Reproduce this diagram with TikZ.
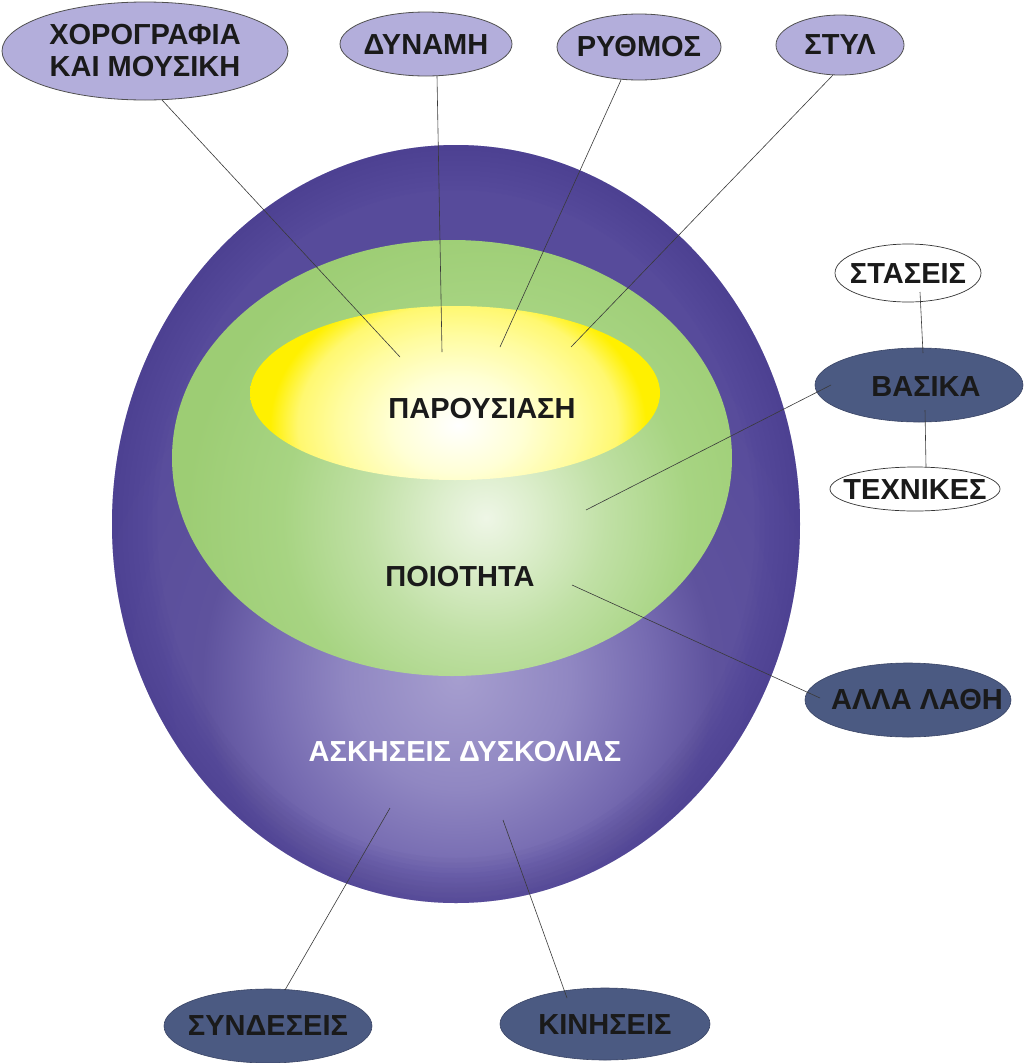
\documentclass[tikz,border=0pt]{standalone}
\usepackage{fontspec}
\setmainfont{Liberation Sans}
\newfontfamily\lblfont{Liberation Sans Bold}
\definecolor{pL}{HTML}{A69ECF}
\definecolor{pM}{HTML}{9087C2}
\definecolor{pMD}{HTML}{766BB1}
\definecolor{pD}{HTML}{5E529D}
\definecolor{pE}{HTML}{574B9B}
\definecolor{pR}{HTML}{42368A}
\definecolor{gW}{HTML}{EEF6E6}
\definecolor{gL}{HTML}{DDEECD}
\definecolor{gM}{HTML}{C0E0A5}
\definecolor{gD}{HTML}{A7D482}
\definecolor{gE}{HTML}{9DCD74}
\definecolor{yW}{HTML}{FFFFFF}
\definecolor{yL}{HTML}{FFFFD6}
\definecolor{yM}{HTML}{FFFCA0}
\definecolor{yD}{HTML}{FFF870}
\definecolor{yE}{HTML}{FFF000}
\definecolor{lavender}{HTML}{B3AEDB}
\definecolor{slate}{HTML}{4B5A82}
\definecolor{slateborder}{HTML}{3A4566}
\definecolor{bordergray}{HTML}{505050}
\definecolor{linegray}{HTML}{3A3A3A}
\definecolor{txtblack}{HTML}{1A1A1A}
\pgfdeclareradialshading{purpleshade}{\pgfpoint{0bp}{0bp}}{color(0bp)=(pL); color(4.67bp)=(pM); color(8bp)=(pMD); color(10.67bp)=(pD); color(16.67bp)=(pE); color(60bp)=(pE)}
\pgfdeclareradialshading{greenshade}{\pgfpoint{0bp}{0bp}}{color(0bp)=(gW); color(2.67bp)=(gL); color(6.67bp)=(gM); color(11.33bp)=(gD); color(16.67bp)=(gE); color(60bp)=(gE)}
\pgfdeclareradialshading{yellowshade}{\pgfpoint{0bp}{0bp}}{color(0bp)=(yW); color(5.33bp)=(yL); color(10bp)=(yM); color(13.33bp)=(yD); color(15.67bp)=(yE); color(60bp)=(yE)}
\begin{document}
\begin{tikzpicture}[x=1pt,y=-1pt,
  conn/.style={draw=linegray, line width=0.6pt},
  lav/.style={fill=lavender, draw=bordergray, line width=0.8pt},
  darkell/.style={fill=slate, draw=slateborder, line width=0.6pt},
  whiteell/.style={fill=white, draw=black!80, line width=0.7pt},
  lbl/.style={font=\lblfont\fontsize{29}{32}\selectfont, text=txtblack, inner sep=0pt, align=center},
]
\fill[white] (0,0) rectangle (1024,1063);
\useasboundingbox (0,0) rectangle (1024,1063);

% purple ellipse
\begin{scope}
  \clip (456,524) ellipse [x radius=344pt, y radius=379pt];
  \shade[shading=purpleshade] (458,677) circle [radius=600pt];
  \foreach \w in {90,80,70,60,50,40,30,20,10}
    \draw[pR, line width=\w pt, opacity=0.05] (456,524) ellipse [x radius=344pt, y radius=379pt];
\end{scope}
% green ellipse
\begin{scope}
  \clip (452,458) ellipse [x radius=280pt, y radius=218pt];
  \shade[shading=greenshade] (486,518) circle [radius=450pt];
\end{scope}
% yellow ellipse
\begin{scope}
  \clip (455,393) ellipse [x radius=205pt, y radius=87pt];
  \shade[shading=yellowshade] (458,425) ellipse [x radius=300pt, y radius=225pt];
\end{scope}

\node[lbl] (par) at (482,409) {ΠΑΡΟΥΣΙΑΣΗ};
\node[lbl] (poi) at (460,577) {ΠΟΙΟΤΗΤΑ};
\node[lbl, text=white] (ask) at (465,752) {ΑΣΚΗΣΕΙΣ ΔΥΣΚΟΛΙΑΣ};

% top ellipses
\path[lav] (145,51) ellipse [x radius=143pt, y radius=49pt];
\node[lbl] (xor) at (145,51) {ΧΟΡΟΓΡΑΦΙΑ\\ΚΑΙ ΜΟΥΣΙΚΗ};
\path[lav] (426,44) ellipse [x radius=86pt, y radius=32pt];
\node[lbl] (dyn) at (426,45) {ΔΥΝΑΜΗ};
\path[lav] (639,47) ellipse [x radius=82pt, y radius=33pt];
\node[lbl] (ryt) at (639,47) {ΡΥΘΜΟΣ};
\path[lav] (840,45) ellipse [x radius=64pt, y radius=30pt];
\node[lbl] (sty) at (840,45) {ΣΤΥΛ};

% right side
\path[whiteell] (908,273) ellipse [x radius=73pt, y radius=29pt];
\node[lbl] (sta) at (908,274) {ΣΤΑΣΕΙΣ};
\path[darkell] (919,385) ellipse [x radius=104pt, y radius=37pt];
\node[lbl] (bas) at (926,387) {ΒΑΣΙΚΑ};
\path[whiteell] (915,489) ellipse [x radius=85pt, y radius=22pt];
\node[lbl] (tex) at (915,490) {ΤΕΧΝΙΚΕΣ};
\path[darkell] (908,700) ellipse [x radius=103pt, y radius=37pt];
\node[lbl] (all) at (917,700) {ΑΛΛΑ ΛΑΘΗ};

% bottom
\path[darkell] (268,1026) ellipse [x radius=104pt, y radius=37pt];
\node[lbl] (syn) at (268,1026) {ΣΥΝΔΕΣΕΙΣ};
\path[darkell] (605,1024) ellipse [x radius=105pt, y radius=36pt];
\node[lbl] (kin) at (605,1025) {ΚΙΝΗΣΕΙΣ};

% connector end points
\coordinate (xorA) at (162,100); \coordinate (xorB) at (400,357);
\coordinate (dynA) at (437,76);  \coordinate (dynB) at (442,352);
\coordinate (rytA) at (621,80);  \coordinate (rytB) at (500,347);
\coordinate (styA) at (833,75);  \coordinate (styB) at (571,347);
\coordinate (staA) at (920,292); \coordinate (staB) at (923,353);
\coordinate (basA) at (925,410); \coordinate (basB) at (926,467);
\coordinate (basC) at (831,385); \coordinate (basD) at (586,510);
\coordinate (allA) at (820,698); \coordinate (allB) at (572,585);
\coordinate (synA) at (285,990); \coordinate (synB) at (390,808);
\coordinate (kinA) at (567,998); \coordinate (kinB) at (503,820);

\draw[conn] (xorA) -- (xorB);
\draw[conn] (dynA) -- (dynB);
\draw[conn] (rytA) -- (rytB);
\draw[conn] (styA) -- (styB);
\draw[conn] (staA) -- (staB);
\draw[conn] (basA) -- (basB);
\draw[conn] (basC) -- (basD);
\draw[conn] (allA) -- (allB);
\draw[conn] (synA) -- (synB);
\draw[conn] (kinA) -- (kinB);
\end{tikzpicture}
\end{document}
